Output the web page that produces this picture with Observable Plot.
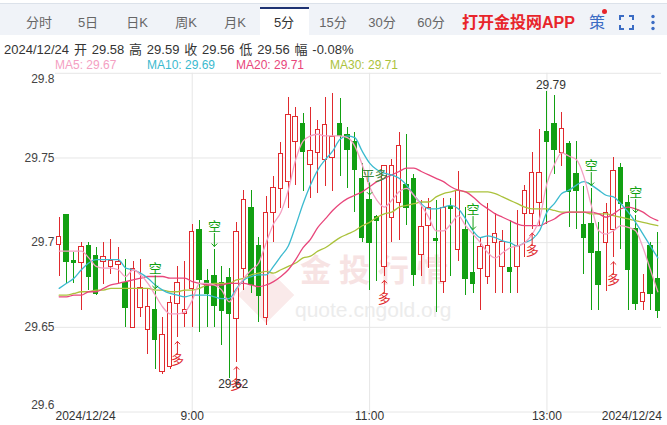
<!DOCTYPE html>
<html><head><meta charset="utf-8">
<script src="https://cdn.jsdelivr.net/npm/d3@7"></script>
<script src="https://cdn.jsdelivr.net/npm/@observablehq/plot@0.6"></script>
<style>
html,body{margin:0;padding:0;background:#fff;}
body{font-family:"Liberation Sans",Arial,"Noto Sans CJK SC",sans-serif;}
#wrap{position:relative;width:667px;height:425px;overflow:hidden;}
#head{position:relative;width:667px;height:70px;}
#bar{position:absolute;left:0;top:3px;width:667px;height:32px;background:#f0f3f8;border-top:1px solid #dce2ea;box-sizing:border-box;}
#tabs{position:absolute;left:14.5px;top:4px;height:31px;display:flex;}
.tab{width:49px;height:31px;line-height:37px;text-align:center;font-size:13px;color:#666;box-sizing:border-box;white-space:nowrap;}
.tab.on{background:#fff;border-top:2px solid #1d3272;margin-top:3px;height:28px;line-height:27px;color:#333;}
#app{position:absolute;left:462px;top:12.5px;line-height:20px;font-size:16px;font-weight:bold;color:#e8252b;white-space:nowrap;}
#ce{position:absolute;left:589px;top:12.5px;line-height:20px;font-size:16px;color:#3b6cc4;}
#dot{position:absolute;left:602px;top:9px;width:5px;height:5px;border-radius:50%;background:#e8252b;}
#fs{position:absolute;left:619px;top:15px;}
#more{position:absolute;left:650px;top:14px;}
#info{position:absolute;left:4px;top:42px;line-height:16px;font-size:13px;color:#333;white-space:pre;word-spacing:1.2px;}
.ma{position:absolute;top:58px;line-height:14px;font-size:12px;white-space:pre;}
#chart{position:relative;width:667px;height:355px;}
#chart svg{position:relative;z-index:1;}
.wm{position:absolute;z-index:0;white-space:nowrap;}
</style></head>
<body>
<div id="wrap">
  <div id="head">
    <div id="bar"></div>
    <div id="tabs"></div>
    <div id="app">打开金投网APP</div>
    <div id="ce">策</div><div id="dot"></div>
    <svg id="fs" width="15" height="15" viewBox="0 0 15 15"><path d="M1 5V1H5M10 1H14V5M14 10V14H10M5 14H1V10" fill="none" stroke="#3b6cc4" stroke-width="2"/></svg>
    <svg id="more" width="6" height="17" viewBox="0 0 6 17"><circle cx="3" cy="2.5" r="1.7" fill="#3b6cc4"/><circle cx="3" cy="8.5" r="1.7" fill="#3b6cc4"/><circle cx="3" cy="14.5" r="1.7" fill="#3b6cc4"/></svg>
    <div id="info"></div>
    <div id="legend"></div>
  </div>
  <div id="chart">
    <div class="wm" style="left:246px;top:205px;width:40px;height:40px;background:#faeaea;transform:rotate(45deg);"></div>
    <div class="wm" style="left:300px;top:181px;font-size:31px;line-height:34px;font-weight:bold;color:#f7e3e3;letter-spacing:8px;font-family:'Noto Sans CJK SC',sans-serif;">金投行情</div>
    <div class="wm" style="left:295px;top:228px;font-size:21px;line-height:24px;color:#ececec;">quote.cngold.org</div>
  </div>
</div>
<script>
// ---- header data ----
const tabLabels = ["分时","5日","日K","周K","月K","5分","15分","30分","60分"];
const activeTab = "5分";
const infoDate = "2024/12/24";
const infoLabels = ["开","高","收","低","幅"];
const infoValues = ["29.58","29.59","29.56","29.56","-0.08%"];

// ---- candle data (5-minute bars, 2024/12/24) ----
const opens = [29.699,29.716,29.689,29.688,29.698,29.692,29.689,29.686,29.687,29.676,
29.650,29.662,29.649,29.660,29.624,29.627,29.664,29.658,29.673,29.707,
29.677,29.680,29.676,29.679,29.655,29.685,29.720,29.698,29.656,29.718,
29.732,29.736,29.760,29.770,29.746,29.753,29.749,29.750,29.770,29.763,
29.759,29.737,29.725,29.715,29.686,29.715,29.724,29.734,29.737,29.693,
29.710,29.702,29.677,29.721,29.696,29.707,29.682,29.685,29.680,29.700,
29.686,29.685,29.686,29.717,29.717,29.724,29.765,29.770,29.753,29.758,
29.740,29.710,29.711,29.694,29.700,29.708,29.744,29.723,29.708,29.665,
29.698,29.678];
const highs = [29.715,29.716,29.694,29.700,29.700,29.697,29.700,29.702,29.697,29.690,
29.689,29.690,29.673,29.671,29.656,29.668,29.686,29.689,29.711,29.713,
29.684,29.696,29.686,29.685,29.712,29.731,29.731,29.703,29.727,29.739,
29.759,29.786,29.780,29.776,29.780,29.772,29.786,29.788,29.785,29.768,
29.765,29.747,29.730,29.716,29.745,29.749,29.765,29.764,29.740,29.725,
29.726,29.725,29.726,29.726,29.742,29.721,29.706,29.703,29.723,29.717,
29.707,29.713,29.719,29.734,29.753,29.767,29.789,29.787,29.777,29.760,
29.760,29.733,29.732,29.712,29.723,29.750,29.747,29.728,29.716,29.681,
29.700,29.706];
const lows = [29.680,29.676,29.676,29.660,29.672,29.669,29.675,29.681,29.676,29.650,
29.650,29.656,29.634,29.625,29.622,29.625,29.644,29.650,29.650,29.647,
29.650,29.650,29.639,29.620,29.629,29.672,29.670,29.653,29.651,29.700,
29.720,29.720,29.734,29.730,29.726,29.729,29.733,29.730,29.739,29.732,
29.718,29.700,29.672,29.677,29.680,29.700,29.701,29.710,29.674,29.680,
29.685,29.659,29.670,29.680,29.689,29.669,29.670,29.660,29.675,29.670,
29.670,29.670,29.670,29.691,29.708,29.710,29.711,29.740,29.745,29.709,
29.708,29.681,29.660,29.660,29.671,29.691,29.696,29.660,29.660,29.660,
29.660,29.655];
const closes = [29.703,29.689,29.688,29.697,29.680,29.670,29.691,29.689,29.688,29.662,
29.684,29.673,29.662,29.643,29.645,29.664,29.676,29.660,29.706,29.678,
29.670,29.663,29.660,29.658,29.706,29.725,29.675,29.669,29.717,29.732,
29.752,29.775,29.774,29.754,29.754,29.766,29.769,29.762,29.763,29.755,
29.743,29.703,29.700,29.713,29.745,29.745,29.757,29.721,29.681,29.709,
29.720,29.701,29.720,29.720,29.730,29.679,29.676,29.697,29.698,29.705,
29.700,29.683,29.698,29.730,29.741,29.741,29.760,29.755,29.767,29.730,
29.731,29.703,29.694,29.675,29.717,29.742,29.723,29.684,29.664,29.670,
29.670,29.660];

// ---- moving averages ----
const ma5 = [29.695,29.695,29.695,29.695,29.691,29.686,29.685,29.685,29.684,29.680,
29.684,29.681,29.676,29.669,29.662,29.658,29.658,29.659,29.666,29.676,
29.676,29.675,29.672,29.665,29.672,29.679,29.684,29.688,29.700,29.711,
29.718,29.731,29.749,29.760,29.763,29.764,29.763,29.763,29.763,29.762,
29.757,29.746,29.733,29.725,29.721,29.725,29.730,29.732,29.728,29.722,
29.715,29.707,29.707,29.711,29.716,29.710,29.705,29.700,29.694,29.691,
29.694,29.697,29.698,29.700,29.705,29.714,29.735,29.746,29.753,29.751,
29.749,29.739,29.722,29.707,29.705,29.707,29.710,29.709,29.707,29.697,
29.684,29.671];
const ma10 = [29.673,29.676,29.679,29.684,29.688,29.690,29.690,29.690,29.690,29.685,
29.684,29.682,29.679,29.675,29.672,29.670,29.669,29.668,29.669,29.669,
29.669,29.668,29.667,29.667,29.673,29.678,29.680,29.681,29.681,29.686,
29.692,29.698,29.710,29.723,29.734,29.743,29.749,29.754,29.761,29.763,
29.762,29.754,29.747,29.743,29.741,29.740,29.738,29.734,29.728,29.723,
29.720,29.720,29.721,29.722,29.720,29.714,29.707,29.703,29.704,29.703,
29.701,29.700,29.698,29.700,29.702,29.707,29.718,29.723,29.729,29.731,
29.734,29.736,29.734,29.731,29.728,29.727,29.723,29.718,29.712,29.705,
29.698,29.691];
const ma20 = [29.668,29.668,29.669,29.669,29.671,29.671,29.673,29.675,29.676,29.677,
29.678,29.679,29.680,29.680,29.680,29.679,29.679,29.679,29.677,29.676,
29.675,29.675,29.675,29.676,29.676,29.676,29.675,29.674,29.675,29.677,
29.680,29.684,29.690,29.697,29.702,29.709,29.714,29.719,29.723,29.726,
29.728,29.730,29.733,29.736,29.738,29.740,29.742,29.744,29.744,29.742,
29.740,29.738,29.736,29.733,29.731,29.730,29.727,29.723,29.720,29.717,
29.715,29.713,29.711,29.710,29.710,29.710,29.712,29.714,29.717,29.718,
29.718,29.718,29.718,29.717,29.715,29.717,29.720,29.721,29.720,29.718,
29.715,29.713];
const ma30 = [29.669,29.669,29.670,29.671,29.671,29.672,29.672,29.673,29.673,29.673,
29.673,29.673,29.673,29.672,29.672,29.671,29.671,29.672,29.672,29.673,
29.675,29.676,29.676,29.676,29.678,29.679,29.681,29.682,29.683,29.682,
29.684,29.686,29.688,29.691,29.692,29.695,29.697,29.700,29.703,29.705,
29.707,29.710,29.712,29.715,29.717,29.718,29.721,29.722,29.723,29.724,
29.724,29.727,29.729,29.730,29.731,29.730,29.730,29.730,29.730,29.729,
29.727,29.725,29.723,29.721,29.720,29.720,29.720,29.719,29.718,29.718,
29.718,29.718,29.717,29.717,29.717,29.716,29.715,29.714,29.713,29.712,
29.711,29.710];
const maNames = ["MA5","MA10","MA20","MA30"];
const maColors = ["#f4a0c2","#3bbacf","#e8467b","#abc23c"];
const maSeries = [ma5, ma10, ma20, ma30];

// ---- signals (bar index) ----
const shortIdx = [13, 21, 56, 72, 78];     // 空
const longIdx = [16, 24, 44, 64, 75];      // 多
const closeLongIdx = [42];                 // 平多

// ---- axes ----
const yTicks = [29.6, 29.65, 29.7, 29.75, 29.8];
const timeIdx = [18, 42, 66];
const timeLabels = ["9:00", "11:00", "13:00"];
const dateLabel = "2024/12/24";

// ---- header ----
document.getElementById("tabs").innerHTML = tabLabels.map(t =>
  `<div class="tab${t === activeTab ? " on" : ""}">${t}</div>`).join("");
document.getElementById("info").textContent =
  infoDate + " " + infoLabels.map((l, k) => l + " " + infoValues[k]).join(" ");
const legLeft = [55, 147, 236, 330];
document.getElementById("legend").innerHTML = maNames.map((n, k) =>
  `<span class="ma" style="left:${legLeft[k]}px;color:${maColors[k]}">${n}: ${maSeries[k][maSeries[k].length - 1].toFixed(2)}</span>`).join("");

// ---- chart ----
const RED = "#e02a2e", GREEN = "#12a012";
const candles = opens.map((o, i) => ({i, o, h: highs[i], l: lows[i], c: closes[i], up: closes[i] >= o}));
const n = candles.length;
const hiIdx = d3.maxIndex(highs), loIdx = d3.minIndex(lows);
const fmt = d3.format(".2~f");
const axisOpts = {tickSize: 0, tickPadding: 1, tickFormat: fmt, fontSize: 12, color: "#444", label: null};

const chart = Plot.plot({
  width: 667, height: 355,
  marginLeft: 55, marginRight: 6, marginTop: 2.8, marginBottom: 13.5,
  style: {background: "transparent", overflow: "visible", fontFamily: '"Liberation Sans", Arial, "Noto Sans CJK SC", sans-serif', fontSize: "12px", color: "#333"},
  x: {domain: [-0.5, n - 0.5], axis: null},
  y: {domain: [29.6, 29.8], axis: null},
  color: {type: "identity"},
  marks: [
    Plot.ruleY(yTicks, {stroke: "#e6e6e6"}),
    Plot.ruleX(timeIdx, {stroke: "#e6e6e6"}),
    Plot.ruleX(candles, {x: "i", y1: "l", y2: "h", stroke: d => d.up ? RED : GREEN, strokeWidth: 1, shapeRendering: "crispEdges"}),
    Plot.rect(candles, {x1: d => d.i - 0.3, x2: d => d.i + 0.3, y1: d => Math.min(d.o, d.c), y2: d => Math.max(d.o, d.c),
      insetTop: -0.5, insetBottom: -0.5,
      fill: d => d.up ? "#fff" : GREEN, stroke: d => d.up ? RED : GREEN, strokeWidth: 1, shapeRendering: "crispEdges"}),
    ...maSeries.slice().reverse().map((s, k) => Plot.lineY(s, {stroke: maColors[3 - k], strokeWidth: 1.3, curve: "monotone-x"})),
    // signals
    Plot.vector(shortIdx, {x: d => d, y: d => highs[d], length: 13, rotate: 180, anchor: "end", dy: -3, stroke: GREEN, strokeWidth: 1}),
    Plot.text(shortIdx, {x: d => d, y: d => highs[d], text: () => "空", dy: -23, fill: GREEN, fontSize: 13}),
    Plot.vector(closeLongIdx, {x: d => d, y: d => highs[d], length: 12, rotate: 180, anchor: "end", dy: 3, stroke: GREEN, strokeWidth: 1}),
    Plot.text(closeLongIdx, {x: d => d, y: d => highs[d], text: () => "平多", dy: -16, dx: 5, fill: "#3d8a3d", fontSize: 13}),
    Plot.vector(longIdx, {x: d => d, y: d => lows[d], length: 12, rotate: 0, anchor: "end", dy: 4, stroke: RED, strokeWidth: 1}),
    Plot.text(longIdx, {x: d => d, y: d => lows[d], text: () => "多", dy: 22, fill: RED, fontSize: 13}),
    // extreme labels
    Plot.text([hiIdx], {x: d => d, y: d => highs[d], text: d => highs[d].toFixed(2), dy: -7, dx: 4, fill: "#333", fontSize: 12}),
    Plot.text([loIdx], {x: d => d, y: d => lows[d], text: d => lows[d].toFixed(2), dy: 6, dx: 4, fill: "#333", fontSize: 12}),
    // y axis
    Plot.axisY([29.8], {...axisOpts, dy: 6}),
    Plot.axisY([29.65, 29.7, 29.75], {...axisOpts}),
    Plot.axisY([29.6], {...axisOpts, dy: -7}),
    // x labels
    Plot.text([0], {x: d => d, frameAnchor: "bottom", text: () => dateLabel, textAnchor: "start", dx: -3.7, dy: 8, fill: "#333", fontSize: 12}),
    Plot.text(timeIdx, {x: d => d, frameAnchor: "bottom", text: (d, k) => timeLabels[k], dy: 8, fill: "#333", fontSize: 12}),
    Plot.text([n - 1], {x: d => d, frameAnchor: "bottom", text: () => dateLabel, textAnchor: "end", dx: 4, dy: 8, fill: "#333", fontSize: 12})
  ]
});
document.getElementById("chart").appendChild(chart);
</script>
</body></html>
